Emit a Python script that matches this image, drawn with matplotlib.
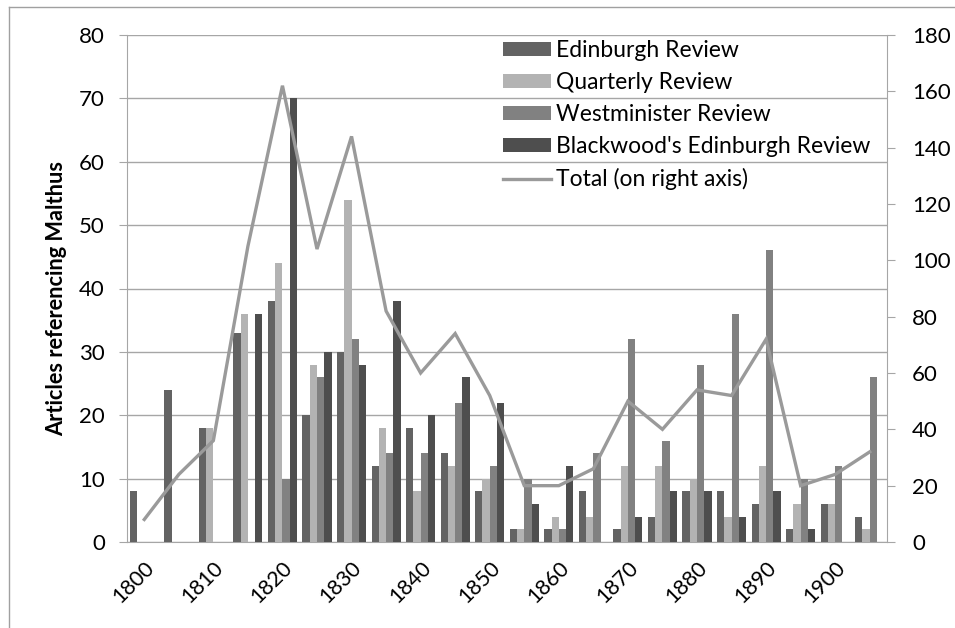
import matplotlib
matplotlib.use("Agg")
import matplotlib.pyplot as plt
import numpy as np
from matplotlib.lines import Line2D

plt.rcParams['font.family'] = ['Lato', 'DejaVu Sans']

years = [1800, 1805, 1810, 1815, 1820, 1825, 1830, 1835, 1840, 1845, 1850,
         1855, 1860, 1865, 1870, 1875, 1880, 1885, 1890, 1895, 1900, 1905]
edinburgh = [8, 24, 18, 33, 38, 20, 30, 12, 18, 14, 8, 2, 2, 8, 2, 4, 8, 8, 6, 2, 6, 4]
quarterly = [0, 0, 18, 36, 44, 28, 54, 18, 8, 12, 10, 2, 4, 4, 12, 12, 10, 4, 12, 6, 6, 2]
westminster = [0, 0, 0, 0, 10, 26, 32, 14, 14, 22, 12, 10, 2, 14, 32, 16, 28, 36, 46, 10, 12, 26]
blackwood = [0, 0, 0, 36, 70, 30, 28, 38, 20, 26, 22, 6, 12, 0, 4, 8, 8, 4, 8, 2, 0, 0]
total = [8, 24, 36, 105, 162, 104, 144, 82, 60, 74, 52, 20, 20, 26, 50, 40, 54, 52, 72, 20, 24, 32]

series_names = ["Edinburgh Review", "Quarterly Review", "Westminister Review",
                "Blackwood's Edinburgh Review"]
line_name = "Total (on right axis)"
tick_labels = [str(y) if y % 10 == 0 else "" for y in years]

colors = ["#636363", "#b3b3b3", "#818181", "#4e4e4e"]
line_color = "#9a9a9a"
grid_color = "#a6a6a6"

W, H = 955, 628
fig = plt.figure(figsize=(W / 100, H / 100), dpi=100)
ax = fig.add_axes([127 / W, 1 - 542 / H, (887 - 127) / W, (542 - 35) / H])
ax2 = ax.twinx()

x = np.arange(len(years))
bw = 0.21
offs = [-1.5, -0.5, 0.5, 1.5]
handles = []
for vals, c, off, name in zip([edinburgh, quarterly, westminster, blackwood], colors, offs, series_names):
    b = ax.bar(x + off * bw, vals, width=bw, color=c, label=name, zorder=3)
    handles.append(b)

ln, = ax2.plot(x, total, color=line_color, lw=2.4, label=line_name, zorder=4, solid_joinstyle='miter')
handles.append(ln)

ax.set_xlim(-0.5, len(years) - 0.5)
ax.set_ylim(0, 80)
ax.set_yticks(np.arange(0, 81, 10))
ax2.set_ylim(0, 180)
ax2.set_yticks(np.arange(0, 181, 20))

ax.grid(axis='y', color=grid_color, lw=1.0, zorder=0)
ax.set_axisbelow(True)

for a in (ax, ax2):
    for s in a.spines.values():
        s.set_visible(False)
ax.spines['left'].set_visible(True)
ax.spines['left'].set_color(grid_color)
ax.spines['bottom'].set_visible(True)
ax.spines['bottom'].set_color(grid_color)
ax2.spines['right'].set_visible(True)
ax2.spines['right'].set_color(grid_color)

ax.set_xticks(x)
ax.set_xticklabels(tick_labels, rotation=45, ha='right', rotation_mode='anchor', fontsize=15.5)
ax.tick_params(axis='x', length=0, pad=11)
ax.tick_params(axis='y', length=6, color=grid_color, labelsize=16, pad=10)
ax2.tick_params(axis='y', length=6, color=grid_color, labelsize=16, pad=12)

ax.set_ylabel("Articles referencing Malthus", fontsize=15.7, fontweight='bold')
ax.yaxis.set_label_coords((67 - 127) / 760, (542 - 298) / 507)

ax2.legend(handles, series_names + [line_name], loc='upper left',
           bbox_to_anchor=(503 / W, 1 - 40 / H), bbox_transform=fig.transFigure,
           frameon=False, fontsize=16.5, handlelength=2.1, handleheight=0.57,
           handletextpad=0.22, labelspacing=0.48, borderpad=0, borderaxespad=0)

# figure border
fig.add_artist(Line2D([9 / W, 9 / W], [0, 1 - 7 / H], transform=fig.transFigure, color='#a0a0a0', lw=1))
fig.add_artist(Line2D([9 / W, 1], [1 - 7 / H, 1 - 7 / H], transform=fig.transFigure, color='#a0a0a0', lw=1))

fig.savefig("out.png", dpi=100)
